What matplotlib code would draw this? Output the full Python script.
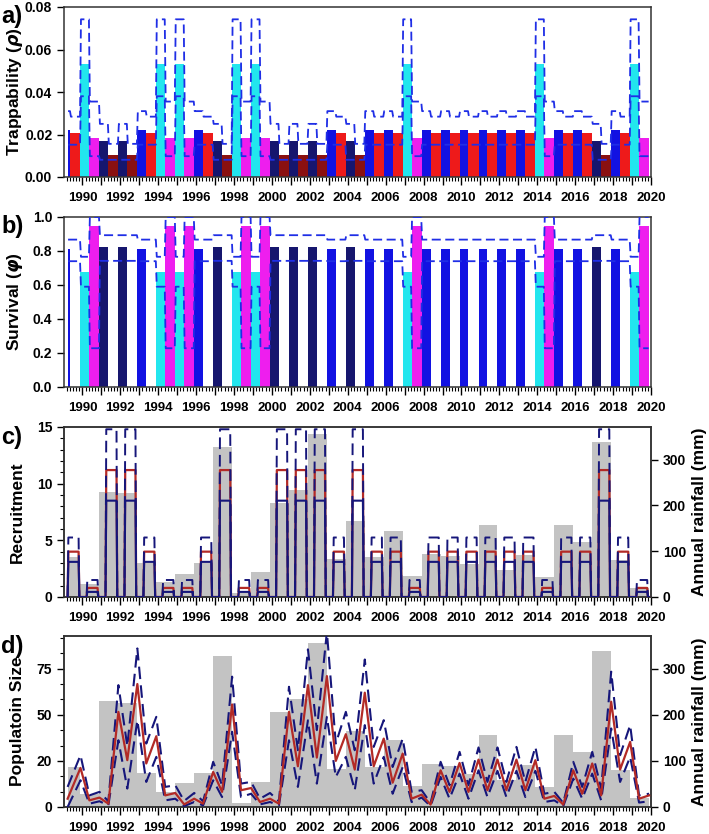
import numpy as np
import matplotlib
matplotlib.use("Agg")
import matplotlib.pyplot as plt
from matplotlib.ticker import MultipleLocator, FixedLocator, FuncFormatter, FormatStrFormatter

plt.rcParams['font.family'] = ['Liberation Sans', 'DejaVu Sans']
plt.rcParams['font.weight'] = 'bold'
plt.rcParams['axes.labelweight'] = 'bold'

# ---------------- data ----------------
years = list(range(1989, 2020))
rainfall = [87, 29, 230, 226, 74, 32, 51, 74, 327, 9, 54, 206, 234, 355, 82,
            165, 87, 145, 46, 93, 89, 72, 157, 59, 91, 43, 157, 120, 339, 80, 20]
# rainfall class per year: L = low, M = medium, H = high
rain_class = list("MLHHMLLMHLLHHHMHMMLMMMMMMLMMHML")

# trappability (estimate, lower, upper) per class, season A (Dec-May) and B (Jun-Nov)
trap_A = {'L': (0.053, 0.038, 0.0742), 'M': (0.022, 0.0152, 0.031), 'H': (0.017, 0.0081, 0.025)}
trap_B = {'L': (0.0185, 0.0098, 0.0355), 'M': (0.0205, 0.0152, 0.0284), 'H': (0.0105, 0.0081, 0.0156)}
# survival (estimate, lower, upper)
surv_A = {'L': (0.675, 0.59, 0.766), 'M': (0.812, 0.74, 0.867), 'H': (0.825, 0.742, 0.893)}
surv_B = {'L': (0.945, 0.228, 1.0), 'M': (np.nan, 0.74, 0.867), 'H': (np.nan, 0.742, 0.893)}
# recruitment (estimate, lower, upper)
recruit = {'L': (0.8, 0.45, 1.5), 'M': (4.0, 3.1, 5.25), 'H': (11.2, 8.5, 14.8)}

# population size at each occasion (start, then end of B 1989, end of A 1990, end of B 1990, ...)
pop_est = [4.5, 21.2, 3.6, 5.1, 1.8, 51.6, 25.4, 66.7, 23.6, 38.4, 6.3, 7.6, 1.4, 4.5,
           1.8, 19.0, 8.2, 55.6, 9.1, 10.3, 2.7, 4.5, 1.8, 51.6, 22.1, 66.1, 26.8, 71.0,
           25.0, 39.5, 20.3, 62.0, 22.1, 37.1, 13.2, 29.0, 4.5, 6.7, 1.3, 19.9, 8.2, 23.9,
           8.2, 25.7, 9.1, 25.7, 9.1, 25.7, 9.1, 25.4, 4.5, 6.0, 1.3, 19.9, 7.2, 23.6,
           6.3, 57.1, 20.3, 35.3, 4.5, 6.3]
pop_lo = [0.0, 14.5, 1.8, 3.1, 0.9, 36.2, 10.0, 47.0, 13.6, 27.2, 3.6, 4.5, 0.5, 2.7,
          0.9, 14.5, 5.4, 40.8, 5.4, 7.2, 1.4, 2.7, 0.9, 36.2, 10.9, 47.0, 12.7, 48.9,
          16.3, 27.2, 9.1, 44.4, 12.7, 27.2, 7.2, 21.7, 2.7, 5.1, 0.5, 16.3, 4.5, 18.1,
          4.5, 19.9, 5.4, 19.6, 5.4, 19.6, 5.4, 19.6, 2.7, 3.6, 0.4, 15.4, 4.5, 18.1,
          3.6, 42.6, 13.6, 27.2, 2.4, 3.1]
pop_hi = [10.9, 28.1, 6.3, 8.2, 3.1, 66.1, 33.0, 86.0, 34.4, 48.9, 10.9, 11.8, 3.3, 7.6,
          3.1, 24.5, 11.8, 70.7, 12.7, 13.6, 4.5, 7.6, 3.1, 65.2, 30.8, 85.5, 41.7, 95.0,
          34.4, 51.6, 30.8, 80.0, 32.6, 47.1, 21.7, 37.1, 8.2, 9.1, 2.2, 24.5, 11.8, 29.9,
          11.8, 32.3, 13.6, 32.3, 13.6, 32.6, 13.6, 32.6, 7.2, 8.2, 2.2, 24.5, 10.9, 29.9,
          10.0, 73.4, 28.1, 44.4, 6.3, 7.2]

col_A = {'L': '#22e6ee', 'M': '#1212e2', 'H': '#16166e'}
col_B = {'L': '#ee1eee', 'M': '#ee1a1a', 'H': '#8a1010'}
ci_blue = '#1f2ee6'
navy = '#16167a'
red_line = '#b32a26'
gray = '#c3c3c3'

# ---------------- season timeline ----------------
data_start = 1989.22
seasons = []   # (start, end, 'A'/'B', class)
for y, c in zip(years, rain_class):
    a0 = data_start if y == years[0] else y - 0.1
    seasons.append((a0, y + 0.37, 'A', c))
    seasons.append((y + 0.37, y + 0.9, 'B', c))

rain_start = [data_start if y == years[0] else y - 0.1 for y in years]
rain_end = [y + 0.9 for y in years]
occ_times = [data_start]
for (s0, s1, typ, c) in seasons:
    if not (typ == 'A' and s0 == data_start):
        occ_times.append(s1)

def season_line(vals, d=0.025):
    xs, ys = [], []
    for (s0, s1, typ, c), v in zip(seasons, vals):
        xs += [s0 + d, s1 - d]
        ys += [v, v]
    return xs, ys

W, H = 709, 834
fig = plt.figure(figsize=(W / 100, H / 100), dpi=100)
left = 64 / W
width = 587 / W
def axrect(top, bottom):
    return [left, 1 - bottom / H, width, (bottom - top) / H]

ax_a = fig.add_axes(axrect(7, 177))
ax_b = fig.add_axes(axrect(217, 387))
ax_c = fig.add_axes(axrect(427, 597))
ax_d = fig.add_axes(axrect(636, 807))

XMIN, XMAX = 1989.03, 2020.0

def style_x(ax):
    ax.set_xlim(XMIN, XMAX)
    ax.xaxis.set_major_locator(MultipleLocator(1))
    ax.xaxis.set_minor_locator(MultipleLocator(1 / 6))
    ax.xaxis.set_major_formatter(FuncFormatter(lambda v, p: f"{int(round(v))}" if int(round(v)) % 2 == 0 else ""))
    ax.tick_params(axis='x', which='major', length=6, width=1, direction='out', pad=5, labelsize=9.5)
    ax.tick_params(axis='x', which='minor', length=3, width=0.8, direction='out')
    ax.tick_params(axis='y', which='major', length=5, width=1, direction='out', labelsize=10)
    ax.tick_params(axis='y', which='minor', length=3, width=0.8, direction='out')
    for sp in ax.spines.values():
        sp.set_linewidth(1.1)
        sp.set_color('#333333')

dash = (0, (5, 2.5))

# ---------------- panel a ----------------
vals_a = [(trap_A if t == 'A' else trap_B)[c] for (_, _, t, c) in seasons]
for (s0, s1, t, c), v in zip(seasons, vals_a):
    ax_a.bar(s0, v[0], width=s1 - s0, align='edge',
             color=(col_A if t == 'A' else col_B)[c], linewidth=0, zorder=2)
for k in (1, 2):
    xs, ys = season_line([v[k] for v in vals_a])
    ax_a.plot(xs, ys, color=ci_blue, lw=1.3, ls=dash, zorder=3)
ax_a.set_ylim(0, 0.08)
ax_a.yaxis.set_major_locator(MultipleLocator(0.02))
ax_a.yaxis.set_major_formatter(FormatStrFormatter('%.2f'))
style_x(ax_a)
ax_a.set_ylabel('Trappability ($\\rho$)', fontsize=12.5)

# ---------------- panel b ----------------
vals_b = [(surv_A if t == 'A' else surv_B)[c] for (_, _, t, c) in seasons]
for (s0, s1, t, c), v in zip(seasons, vals_b):
    if not np.isnan(v[0]):
        ax_b.bar(s0, v[0], width=s1 - s0, align='edge',
                 color=(col_A if t == 'A' else col_B)[c], linewidth=0, zorder=2)
for k in (1, 2):
    xs, ys = season_line([v[k] for v in vals_b])
    ax_b.plot(xs, ys, color=ci_blue, lw=1.3, ls=dash, zorder=3)
ax_b.set_ylim(0, 1.0)
ax_b.yaxis.set_major_locator(MultipleLocator(0.2))
ax_b.yaxis.set_major_formatter(FormatStrFormatter('%.1f'))
style_x(ax_b)
ax_b.set_ylabel('Survival ($\\varphi$)', fontsize=12.5)

# ---------------- panel c ----------------
RAIN_TOP = 371
def rain_axis(ax):
    ax2 = ax.twinx()
    ax2.bar(rain_start, rainfall, width=np.array(rain_end) - np.array(rain_start),
            align='edge', color=gray, linewidth=0)
    ax2.set_ylim(0, RAIN_TOP)
    ax2.yaxis.set_major_locator(MultipleLocator(100))
    ax2.tick_params(axis='y', length=5, width=1, direction='out', labelsize=10)
    ax2.set_ylabel('Annual rainfall (mm)', fontsize=12.5)
    ax2.yaxis.set_label_coords(1.07, 0.5)
    for sp in ax2.spines.values():
        sp.set_linewidth(1.1)
        sp.set_color('#333333')
    ax.set_zorder(ax2.get_zorder() + 1)
    ax.patch.set_visible(False)
    return ax2

rain_axis(ax_c)
rx = {0: [], 1: [], 2: []}
ry = {0: [], 1: [], 2: []}
for y, c in zip(years, rain_class):
    v = recruit[c]
    for k in range(3):
        rx[k] += [y + 0.22, y + 0.26, y + 0.80, y + 0.84]
        ry[k] += [0, v[k], v[k], 0]
for k in range(3):
    rx[k].append(years[-1] + 0.9)
    ry[k].append(0)
ax_c.plot(rx[0], ry[0], color=red_line, lw=1.6, zorder=3)
ax_c.plot(rx[2], ry[2], color=navy, lw=1.4, ls=(0, (6, 3)), zorder=4)
ax_c.plot(rx[1], ry[1], color=navy, lw=1.5, zorder=4)
ax_c.set_ylim(0, 15)
ax_c.yaxis.set_major_locator(MultipleLocator(5))
ax_c.yaxis.set_minor_locator(MultipleLocator(1))
style_x(ax_c)
ax_c.set_ylabel('Recruitment', fontsize=12.5)

# ---------------- panel d ----------------
rain_axis(ax_d)
ax_d.plot(occ_times, pop_hi, color=navy, lw=1.5, ls=(0, (6, 3)), zorder=3)
ax_d.plot(occ_times, pop_lo, color=navy, lw=1.5, ls=(0, (6, 3)), zorder=3)
ax_d.plot(occ_times, pop_est, color=red_line, lw=1.6, zorder=4)
ax_d.set_ylim(0, 92.75)
ax_d.yaxis.set_major_locator(FixedLocator([0, 25, 50, 75]))
ax_d.set_yticklabels(['0', '20', '50', '75'])
ax_d.yaxis.set_minor_locator(MultipleLocator(25 / 3))
style_x(ax_d)
ax_d.set_ylabel('Populatoin Size', fontsize=12.5)

for ax in (ax_a, ax_b, ax_c, ax_d):
    ax.yaxis.set_label_coords(-0.066, 0.5)

for lab, yy in (('a)', 17), ('b)', 227), ('c)', 438), ('d)', 647)):
    fig.text(1 / W, 1 - yy / H, lab, fontsize=17, fontweight='bold', va='center', ha='left')

fig.savefig('out.png', dpi=100)
